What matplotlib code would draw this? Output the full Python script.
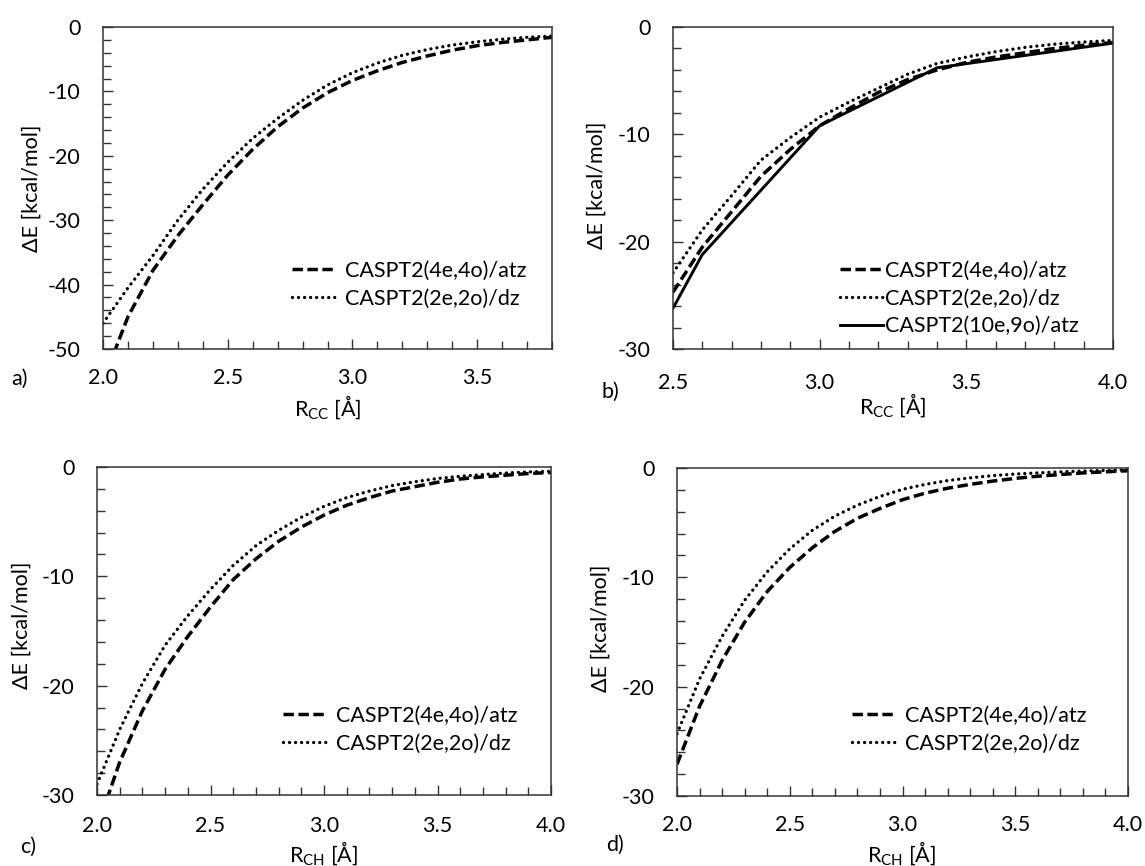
import matplotlib
matplotlib.use("Agg")
import matplotlib.pyplot as plt
from matplotlib.ticker import MultipleLocator, FormatStrFormatter
from matplotlib.lines import Line2D

plt.rcParams['font.family'] = ['Lato', 'DejaVu Sans']
plt.rcParams['axes.unicode_minus'] = False
plt.rcParams['mathtext.default'] = 'regular'

# ---------------- data ----------------
# panel a: R_CC scan
xa = [2.0, 2.1, 2.2, 2.3, 2.4, 2.5, 2.6, 2.7, 2.8, 2.9, 3.0, 3.1, 3.2, 3.3, 3.4, 3.5, 3.6, 3.7, 3.8]
a_4e4o = [-55.0, -45.0, -37.8, -32.4, -27.6, -23.0, -19.0, -15.5, -12.6, -10.2, -8.3, -6.8, -5.5, -4.5,
          -3.6, -2.9, -2.4, -2.0, -1.6]
a_2e2o = [-46.0, -40.5, -35.5, -30.0, -25.2, -21.0, -17.3, -14.2, -11.4, -9.0, -7.1, -5.6, -4.4, -3.5,
          -2.8, -2.3, -1.9, -1.6, -1.4]

# panel b: R_CC scan
xb = [2.5, 2.6, 2.7, 2.8, 2.9, 3.0, 3.1, 3.2, 3.3, 3.4, 3.5, 3.6, 3.7, 3.8, 3.9, 4.0]
b_4e4o = [-24.7, -20.5, -17.2, -13.9, -11.4, -9.2, -7.6, -6.1, -4.9, -4.0, -3.3, -2.8, -2.4, -2.0,
          -1.7, -1.45]
b_2e2o = [-22.9, -18.9, -15.7, -12.4, -10.3, -8.4, -7.0, -5.7, -4.4, -3.4, -2.8, -2.3, -1.9, -1.6,
          -1.4, -1.25]
xb_10e9o = [2.5, 2.6, 3.0, 3.4, 4.0]
b_10e9o = [-26.2, -21.2, -9.2, -3.8, -1.5]

# panel c: R_CH scan
xc = [2.0, 2.1, 2.2, 2.3, 2.4, 2.5, 2.6, 2.7, 2.8, 2.9, 3.0, 3.1, 3.2, 3.3, 3.4, 3.5, 3.6, 3.7, 3.8, 3.9, 4.0]
c_4e4o = [-33.0, -27.0, -22.3, -18.5, -15.5, -12.8, -10.3, -8.4, -6.8, -5.5, -4.4, -3.5, -2.8, -2.2,
          -1.8, -1.4, -1.1, -0.9, -0.75, -0.6, -0.5]
c_2e2o = [-29.0, -24.0, -19.8, -16.3, -13.6, -11.2, -9.0, -7.2, -5.8, -4.6, -3.6, -2.8, -2.2, -1.7,
          -1.35, -1.05, -0.85, -0.7, -0.55, -0.45, -0.4]

# panel d: R_CH scan
xd = [2.0, 2.1, 2.2, 2.3, 2.4, 2.5, 2.6, 2.7, 2.8, 2.9, 3.0, 3.1, 3.2, 3.3, 3.4, 3.5, 3.6, 3.7, 3.8, 3.9, 4.0]
d_4e4o = [-27.1, -21.8, -17.6, -14.1, -11.3, -9.1, -7.3, -5.8, -4.6, -3.7, -2.9, -2.3, -1.85, -1.5,
          -1.2, -0.95, -0.75, -0.6, -0.45, -0.35, -0.25]
d_2e2o = [-24.3, -19.3, -15.4, -12.1, -9.5, -7.4, -5.7, -4.4, -3.4, -2.6, -1.95, -1.5, -1.15, -0.9,
          -0.7, -0.55, -0.45, -0.35, -0.28, -0.22, -0.18]

lab_4e4o = "CASPT2(4e,4o)/atz"
lab_2e2o = "CASPT2(2e,2o)/dz"
lab_10e9o = "CASPT2(10e,9o)/atz"
ylab = "ΔE [kcal/mol]"
xlab_cc = "R$_{CC}$ [Å]"
xlab_ch = "R$_{CH}$ [Å]"

# ---------------- figure ----------------
W, H = 1145, 866
fig = plt.figure(figsize=(W / 100, H / 100), dpi=100)

FS = 15.5


def px_axes(l, t, r, b):
    return fig.add_axes([l / W, 1 - b / H, (r - l) / W, (b - t) / H])


dash_style = dict(color='black', lw=2.5, linestyle=(0, (3.0, 1.3)), dash_capstyle='butt')
dot_style = dict(color='black', lw=2.4, linestyle=(0, (0.01, 1.8)), dash_capstyle='round')
solid_style = dict(color='black', lw=2.1, linestyle='-')


def style_axes(ax, xlim, ylim, xpad, ypad=16):
    ax.set_xlim(*xlim)
    ax.set_ylim(*ylim)
    ax.xaxis.set_major_locator(MultipleLocator(0.5))
    ax.xaxis.set_minor_locator(MultipleLocator(0.1))
    ax.yaxis.set_major_locator(MultipleLocator(10))
    ax.yaxis.set_minor_locator(MultipleLocator(2))
    ax.xaxis.set_major_formatter(FormatStrFormatter('%.1f'))
    ax.yaxis.set_major_formatter(FormatStrFormatter('%d'))
    ax.tick_params(axis='both', which='both', direction='in', color='#333333', width=1.0,
                   top=False, right=False, labelsize=FS)
    ax.tick_params(axis='both', which='major', length=7)
    ax.tick_params(axis='both', which='minor', length=6)
    ax.tick_params(axis='x', which='major', pad=xpad)
    ax.tick_params(axis='y', which='major', pad=ypad)
    for s in ax.spines.values():
        s.set_color('#333333')
        s.set_linewidth(1.1)


def labels(ax, xl, xl_pos, yl_pos, tag, tag_pos):
    ax.set_xlabel(xl, fontsize=FS)
    ax.xaxis.label.set_va('center')
    ax.xaxis.set_label_coords(xl_pos[0] / W, 1 - xl_pos[1] / H, transform=fig.transFigure)
    ax.set_ylabel(ylab, fontsize=FS)
    ax.yaxis.label.set_va('center')
    ax.yaxis.set_label_coords(yl_pos[0] / W, 1 - yl_pos[1] / H, transform=fig.transFigure)
    fig.text(tag_pos[0] / W, 1 - tag_pos[1] / H, tag, fontsize=FS, ha='center', va='center')


def legend(ax, handles, x_px, y_px, textpad=0.45):
    ax.legend(handles=handles, loc='upper left',
              bbox_to_anchor=(x_px / W, 1 - y_px / H), bbox_transform=fig.transFigure,
              frameon=False, fontsize=FS, handlelength=2.0, handletextpad=textpad,
              labelspacing=0.35, borderpad=0, borderaxespad=0)


# panel a
ax = px_axes(103, 27, 552, 349)
ax.plot(xa, a_4e4o, **dash_style)
ax.plot(xa, a_2e2o, **dot_style)
style_axes(ax, (2.0, 3.8), (-50, 0), xpad=14)
labels(ax, xlab_cc, (328, 407), (32, 188), 'a)', (20, 379))
legend(ax, [Line2D([], [], label=lab_4e4o, **dash_style), Line2D([], [], label=lab_2e2o, **dot_style)],
       292, 261)

# panel b
ax = px_axes(673, 27, 1113, 349)
ax.plot(xb, b_4e4o, **dash_style)
ax.plot(xb, b_2e2o, **dot_style)
ax.plot(xb_10e9o, b_10e9o, **solid_style)
style_axes(ax, (2.5, 4.0), (-30, 0), xpad=17)
labels(ax, xlab_cc, (893, 405), (597, 185), 'b)', (610, 392))
legend(ax, [Line2D([], [], label=lab_4e4o, **dash_style), Line2D([], [], label=lab_2e2o, **dot_style),
            Line2D([], [], label=lab_10e9o, **solid_style)], 840, 261, textpad=0.1)

# panel c
ax = px_axes(97, 467, 551, 795)
ax.plot(xc, c_4e4o, **dash_style)
ax.plot(xc, c_2e2o, **dot_style)
style_axes(ax, (2.0, 4.0), (-30, 0), xpad=15)
labels(ax, xlab_ch, (324, 853), (22, 625), 'c)', (28, 847))
legend(ax, [Line2D([], [], label=lab_4e4o, **dash_style), Line2D([], [], label=lab_2e2o, **dot_style)],
       283, 706)

# panel d
ax = px_axes(677, 468, 1128, 796)
ax.plot(xd, d_4e4o, **dash_style)
ax.plot(xd, d_2e2o, **dot_style)
style_axes(ax, (2.0, 4.0), (-30, 0), xpad=14)
labels(ax, xlab_ch, (902, 853), (601, 628), 'd)', (615, 845))
legend(ax, [Line2D([], [], label=lab_4e4o, **dash_style), Line2D([], [], label=lab_2e2o, **dot_style)],
       852, 706)

fig.savefig("out.png", dpi=100)
